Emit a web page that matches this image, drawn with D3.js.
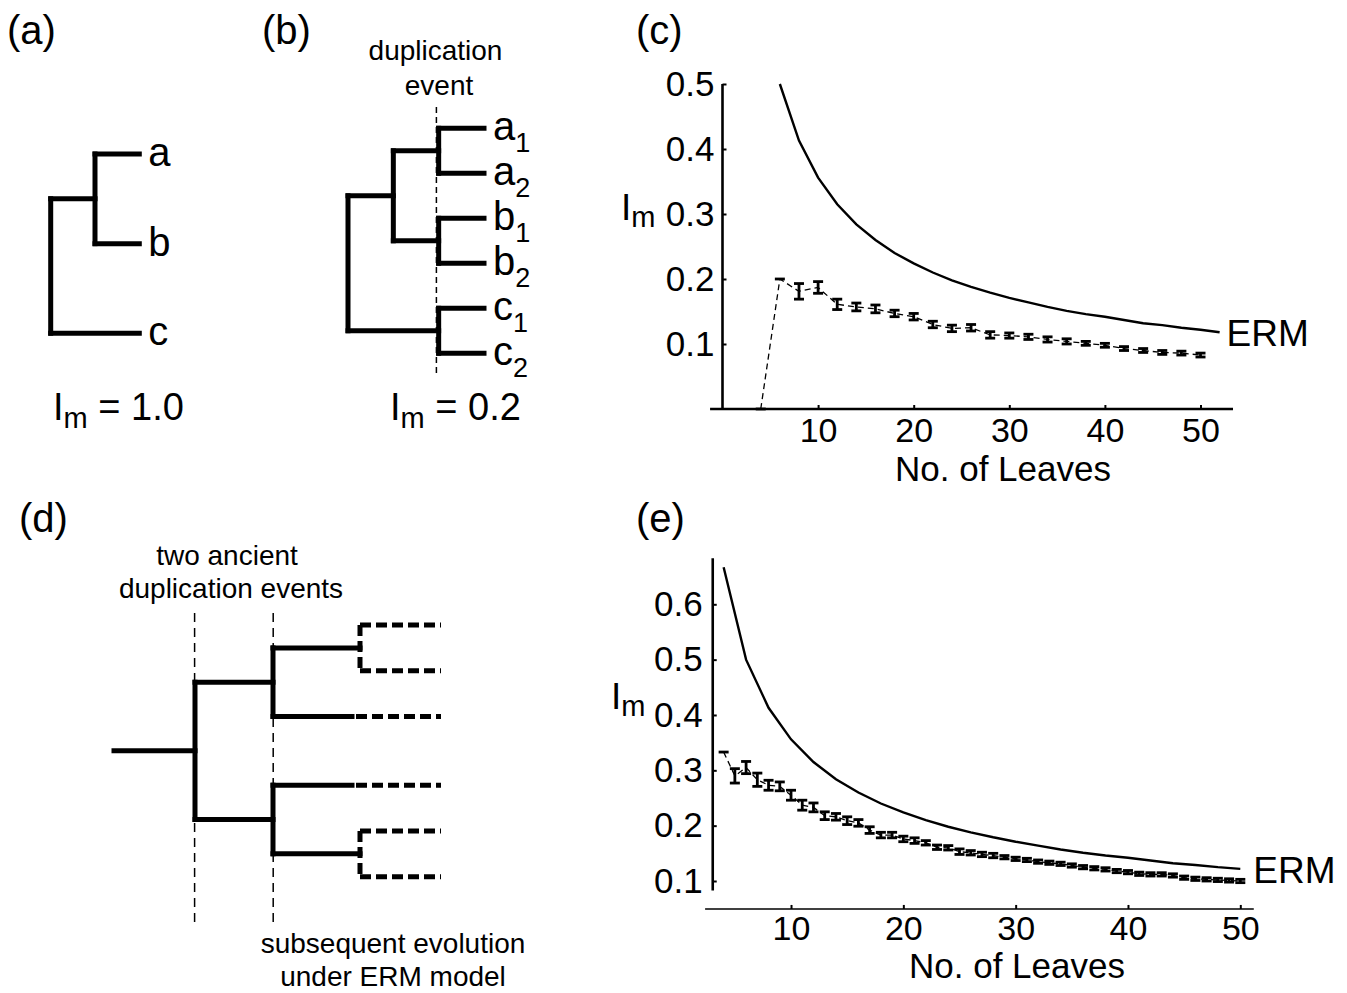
<!DOCTYPE html>
<html><head><meta charset="utf-8">
<script src="https://cdn.jsdelivr.net/npm/d3@7/dist/d3.min.js"></script>
<style>
body{margin:0;background:#fff;}
svg text{font-family:"Liberation Sans", Arial, Helvetica, sans-serif; fill:#000;}
</style></head><body>
<svg id="fig" width="1347" height="993"></svg>
<script>
// ---------------- data ----------------
const xTickValues = [10, 20, 30, 40, 50];
const yTicksC = [0.1, 0.2, 0.3, 0.4, 0.5];
const yTicksE = [0.1, 0.2, 0.3, 0.4, 0.5, 0.6];

// ERM expectation curve (shared by c and e)
const ermLeaves = [4,6,8,10,12,14,16,18,20,22,24,26,28,30,32,34,36,38,40,42,44,46,48,50,52];
const ermValues = [0.667,0.500,0.413,0.356,0.315,0.284,0.260,0.240,0.224,0.210,0.198,0.188,0.179,0.171,0.164,0.157,0.151,0.146,0.142,0.137,0.132,0.129,0.125,0.122,0.118];

// panel (c): simulated trees with one duplication
const leavesC = [4,6,8,10,12,14,16,18,20,22,24,26,28,30,32,34,36,38,40,42,44,46,48,50];
const meanC   = [0,0.200,0.181,0.187,0.161,0.157,0.154,0.147,0.142,0.130,0.124,0.125,0.114,0.113,0.111,0.107,0.104,0.101,0.098,0.093,0.090,0.087,0.086,0.083];
const errC    = [0,0,0.012,0.009,0.008,0.006,0.006,0.005,0.005,0.005,0.005,0.005,0.005,0.004,0.004,0.004,0.004,0.003,0.003,0.003,0.003,0.003,0.003,0.003];

// panel (e): two ancient duplications
const leavesE = [4,5,6,7,8,9,10,11,12,13,14,15,16,17,18,19,20,21,22,23,24,25,26,27,28,29,30,31,32,33,34,35,36,37,38,39,40,41,42,43,44,45,46,47,48,49,50];
const meanE   = [0.333,0.290,0.305,0.283,0.273,0.271,0.255,0.237,0.233,0.218,0.216,0.209,0.205,0.192,0.183,0.183,0.176,0.173,0.169,0.161,0.160,0.153,0.151,0.148,0.146,0.143,0.140,0.138,0.135,0.133,0.131,0.128,0.125,0.123,0.121,0.118,0.116,0.113,0.112,0.112,0.110,0.106,0.104,0.103,0.102,0.101,0.100];
const errE    = [0,0.013,0.011,0.012,0.009,0.008,0.009,0.009,0.008,0.007,0.006,0.007,0.006,0.006,0.005,0.005,0.005,0.005,0.004,0.004,0.004,0.005,0.004,0.004,0.004,0.003,0.003,0.003,0.003,0.003,0.003,0.003,0.003,0.003,0.003,0.003,0.003,0.003,0.003,0.003,0.003,0.003,0.003,0.003,0.003,0.003,0.003];

// trees (t = node age level)
const treeA = {t:0, children:[{t:1, children:[{t:2,name:"a"},{t:2,name:"b"}]},{t:2,name:"c"}]};
const treeB = {t:0, children:[
  {t:1, children:[{t:2, children:[{t:3,name:"a",sub:"1"},{t:3,name:"a",sub:"2"}]},
                  {t:2, children:[{t:3,name:"b",sub:"1"},{t:3,name:"b",sub:"2"}]}]},
  {t:2, children:[{t:3,name:"c",sub:"1"},{t:3,name:"c",sub:"2"}]}]};
const treeD = {t:0, stem:-1, children:[
  {t:1, children:[{t:2, children:[{t:3},{t:3}]},{t:3}]},
  {t:1, children:[{t:3},{t:2, children:[{t:3},{t:3}]}]}]};

// ---------------- drawing ----------------
const svg = d3.select("#fig");
const FONT = '"Liberation Sans", Arial, Helvetica, sans-serif';

function panelLabel(txt, x, y){
  svg.append("text").attr("x",x).attr("y",y).attr("font-size",40).text(txt);
}
panelLabel("(a)", 7, 44);
panelLabel("(b)", 262, 44);
panelLabel("(c)", 636, 44);
panelLabel("(d)", 19, 532);
panelLabel("(e)", 636, 532);

function drawTree(tree, cfg){
  const g = svg.append("g");
  const root = d3.hierarchy(tree);
  const leaves = root.leaves();
  leaves.forEach((lf, i) => {
    const top = lf.ancestors().find(a => a.depth === 1);
    const gi = root.children.indexOf(top);
    lf.slot = i + (cfg.cladeGap ? cfg.cladeGap * gi : 0);
  });
  const maxSlot = d3.max(leaves, d => d.slot);
  const y = d3.scaleLinear().domain([0, maxSlot]).range(cfg.yRange);
  const x = d3.scaleLinear().domain(cfg.tDomain).range(cfg.xRange);
  root.eachAfter(n => {
    n.py = n.children ? d3.mean(n.children, c => c.py) : y(n.slot);
  });
  const ermT = cfg.ermT === undefined ? Infinity : cfg.ermT;
  function seg(x1,y1,x2,y2,dashed){
    const l = g.append("line").attr("x1",x1).attr("y1",y1).attr("x2",x2).attr("y2",y2)
      .attr("stroke","#000").attr("stroke-width",5);
    if(dashed) l.attr("stroke-dasharray","11,5").attr("stroke-linecap","butt");
    else l.attr("stroke-linecap","square");
  }
  root.each(n => {
    if(!n.children) return;
    const nx = x(n.data.t);
    const ys = n.children.map(c => c.py);
    seg(nx, d3.min(ys), nx, d3.max(ys), n.data.t >= ermT);
    n.children.forEach(c => {
      const cx = x(c.data.t);
      if(c.data.t > ermT && n.data.t < ermT){
        seg(nx, c.py, x(ermT) - (c.children ? 3 : 8), c.py, false);
        if(!c.children) seg(x(ermT) - 4, c.py, cx, c.py, true);
        else seg(x(ermT)-3, c.py, x(ermT), c.py, false);
      } else {
        seg(nx, c.py, cx, c.py, n.data.t >= ermT);
      }
    });
  });
  if(tree.stem !== undefined){
    seg(x(tree.stem), root.py, x(tree.t), root.py, false);
  }
  if(cfg.labels){
    leaves.forEach(lf => {
      const t = g.append("text").attr("x", x(lf.data.t) + 9).attr("y", lf.py + 12)
        .attr("font-size", cfg.labelSize);
      t.append("tspan").text(lf.data.name);
      if(lf.data.sub) t.append("tspan").attr("font-size", 27).attr("dy", 12).text(lf.data.sub);
    });
  }
  return {x, y, root};
}

// (a)
drawTree(treeA, {tDomain:[0,2], xRange:[50.7,139.3], yRange:[154,333.3], labels:true, labelSize:40});
// (b)
svg.append("line").attr("x1",436.4).attr("x2",436.4).attr("y1",107).attr("y2",374)
  .attr("stroke","#000").attr("stroke-width",1.5).attr("stroke-dasharray","6,4");
drawTree(treeB, {tDomain:[0,3], xRange:[348,484], yRange:[128.3,353.3], labels:true, labelSize:40});
svg.append("text").attr("x",435.5).attr("y",60).attr("text-anchor","middle").attr("font-size",28).text("duplication");
svg.append("text").attr("x",439).attr("y",95).attr("text-anchor","middle").attr("font-size",28).text("event");

function imText(x, y, rest){
  const t = svg.append("text").attr("x",x).attr("y",y).attr("font-size",38);
  t.append("tspan").text("I");
  t.append("tspan").attr("font-size",29).attr("dy",8).text("m");
  if(rest) t.append("tspan").attr("dy",-8).text(rest);
}
imText(53, 420, " = 1.0");
imText(390, 420, " = 0.2");

// (d)
[194.6, 273.2].forEach(xx => {
  svg.append("line").attr("x1",xx).attr("x2",xx).attr("y1",613).attr("y2",926)
    .attr("stroke","#000").attr("stroke-width",1.5).attr("stroke-dasharray","9,6");
});
drawTree(treeD, {tDomain:[-1,0,1,2,3], xRange:[114,195,273,360,441], yRange:[625,876.7], cladeGap:0.5, ermT:2});
svg.append("text").attr("x",227).attr("y",565).attr("text-anchor","middle").attr("font-size",28).text("two ancient");
svg.append("text").attr("x",231).attr("y",598).attr("text-anchor","middle").attr("font-size",28).text("duplication events");
svg.append("text").attr("x",393).attr("y",953).attr("text-anchor","middle").attr("font-size",28).text("subsequent evolution");
svg.append("text").attr("x",393).attr("y",986).attr("text-anchor","middle").attr("font-size",28).text("under ERM model");

// ---------------- line plots ----------------
function drawPlot(cfg){
  const g = svg.append("g");
  const x = d3.scaleLinear().domain([0,50]).range(cfg.xRange);
  const y = d3.scaleLinear().domain(cfg.yDomain).range(cfg.yRange);

  const xAxis = d3.axisBottom(x).tickValues(xTickValues).tickSizeInner(-4).tickSizeOuter(0)
    .tickPadding(cfg.xPad).tickFormat(d3.format("d"));
  const gx = g.append("g").attr("transform",`translate(0,${y(cfg.xAxisAt)})`).call(xAxis);
  gx.select(".domain").remove();
  gx.attr("font-size",34).attr("font-family",FONT);
  gx.selectAll(".tick line").attr("stroke-width",2);
  gx.append("line").attr("x1",x(cfg.xExtent[0])).attr("x2",x(cfg.xExtent[1]))
    .attr("stroke","#000").attr("stroke-width",cfg.xAxisW);

  const yAxis = d3.axisLeft(y).tickValues(cfg.yTicks).tickSizeInner(-4).tickSizeOuter(0)
    .tickPadding(cfg.yPad).tickFormat(d3.format(".1f"));
  const gy = g.append("g").attr("transform",`translate(${x(cfg.yAxisAt)},0)`).call(yAxis);
  gy.select(".domain").remove();
  gy.attr("font-size",35).attr("font-family",FONT);
  gy.selectAll(".tick line").attr("stroke-width",2);
  gy.append("line").attr("y1",y(cfg.yExtent[0])).attr("y2",y(cfg.yExtent[1]))
    .attr("stroke","#000").attr("stroke-width",2.6);

  const erm = ermLeaves.map((n,i)=>[n, ermValues[i]]).filter(d => d[0] >= cfg.ermRange[0] && d[0] <= cfg.ermRange[1]);
  g.append("path").datum(erm)
    .attr("d", d3.line().x(d=>x(d[0])).y(d=>y(d[1])))
    .attr("fill","none").attr("stroke","#000").attr("stroke-width",2.4);
  const last = erm[erm.length-1];
  g.append("text").attr("x", x(last[0]) + cfg.ermDx).attr("y", y(last[1]) + 14).attr("font-size",37).text("ERM");

  const pts = cfg.leaves.map((n,i)=>({n, m:cfg.mean[i], e:cfg.err[i]}));
  g.append("path").datum(pts)
    .attr("d", d3.line().x(d=>x(d.n)).y(d=>y(d.m)))
    .attr("fill","none").attr("stroke","#000").attr("stroke-width",1.3).attr("stroke-dasharray","6,4");
  const cap = cfg.cap;
  const eb = g.append("g").attr("stroke","#000").attr("stroke-width",2.8);
  pts.forEach(d => {
    const cx = x(d.n);
    if(d.e > 0){
      eb.append("line").attr("x1",cx).attr("x2",cx).attr("y1",y(d.m-d.e)).attr("y2",y(d.m+d.e));
      eb.append("line").attr("x1",cx-cap/2).attr("x2",cx+cap/2).attr("y1",y(d.m-d.e)).attr("y2",y(d.m-d.e));
      eb.append("line").attr("x1",cx-cap/2).attr("x2",cx+cap/2).attr("y1",y(d.m+d.e)).attr("y2",y(d.m+d.e));
    } else {
      eb.append("line").attr("x1",cx-cap/2).attr("x2",cx+cap/2).attr("y1",y(d.m)).attr("y2",y(d.m));
    }
  });

  g.append("text").attr("x", cfg.xTitle[0]).attr("y", cfg.xTitle[1]).attr("text-anchor","middle")
    .attr("font-size",35).text("No. of Leaves");
  const yt = g.append("text").attr("x", cfg.yTitle[0]).attr("y", cfg.yTitle[1]).attr("font-size",37);
  yt.append("tspan").text("I");
  yt.append("tspan").attr("font-size",29).attr("dy",7).text("m");
}

drawPlot({
  xRange:[722.5,1200.5], yDomain:[0,0.5], yRange:[409,84],
  xAxisAt:0, xExtent:[-1.3,53.4], xAxisW:2.6, xPad:9,
  yAxisAt:0, yExtent:[0,0.5], yTicks:yTicksC, yPad:8,
  ermRange:[6,52], ermDx:7, leaves:leavesC, mean:meanC, err:errC, cap:10,
  xTitle:[1003,481], yTitle:[621,220]
});
drawPlot({
  xRange:[678.7,1240.3], yDomain:[0.1,0.6], yRange:[881,604.3],
  xAxisAt:0.0495, xExtent:[2.35,51.2], xAxisW:1.6, xPad:7,
  yAxisAt:3.03, yExtent:[0.083,0.683], yTicks:yTicksE, yPad:10,
  ermRange:[4,50], ermDx:13, leaves:leavesE, mean:meanE, err:errE, cap:10,
  xTitle:[1017,978], yTitle:[611,709]
});
</script>
</body></html>
